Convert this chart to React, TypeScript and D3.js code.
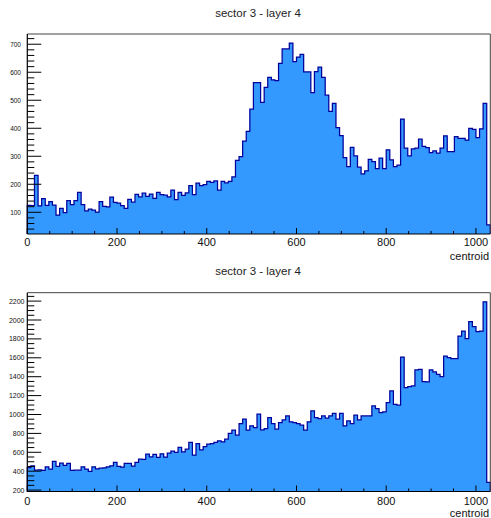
import React from 'react';
import * as d3 from 'd3';

const BIN_WIDTH = 8;
const X_MAX = 1032;
const title = 'sector 3 - layer 4';
const xAxisLabel = 'centroid';
const xMajorTicks = [0, 200, 400, 600, 800, 1000];
const topYTicks = [100, 200, 300, 400, 500, 600, 700];
const bottomYTicks = [200, 400, 600, 800, 1000, 1200, 1400, 1600, 1800, 2000, 2200];

const topCounts = [
  125, 124, 232, 123, 149, 125, 138, 126, 90, 114, 99, 142, 127, 142, 171, 127,
  105, 111, 108, 101, 138, 121, 119, 154, 135, 133, 124, 114, 146, 136, 164, 155,
  168, 157, 165, 150, 171, 163, 161, 155, 179, 145, 171, 160, 169, 195, 163, 204,
  195, 199, 210, 207, 212, 179, 210, 205, 210, 226, 285, 299, 354, 389, 468, 563,
  563, 492, 546, 582, 573, 570, 632, 683, 683, 704, 638, 654, 664, 601, 601, 527,
  602, 618, 582, 518, 460, 489, 402, 374, 295, 263, 332, 301, 261, 237, 248, 289,
  281, 256, 293, 256, 323, 287, 263, 268, 433, 329, 301, 326, 329, 361, 335, 331,
  313, 319, 311, 329, 373, 317, 317, 370, 364, 364, 358, 400, 396, 367, 398, 489,
  55,
];

const bottomCounts = [
  439, 457, 411, 415, 408, 446, 422, 503, 450, 485, 461, 482, 408, 411, 411, 446,
  422, 397, 446, 425, 432, 436, 446, 457, 492, 450, 443, 482, 482, 454, 492, 527,
  524, 580, 552, 577, 545, 584, 549, 591, 612, 598, 651, 605, 633, 704, 570, 693,
  626, 661, 686, 693, 704, 721, 711, 739, 799, 834, 781, 904, 950, 834, 880, 862,
  1003, 837, 851, 968, 904, 844, 915, 943, 985, 922, 915, 904, 887, 834, 922, 1038,
  968, 957, 985, 961, 985, 1013, 950, 1013, 880, 932, 904, 992, 943, 985, 985, 985,
  1091, 1063, 1020, 1027, 1126, 1249, 1108, 1098, 1608, 1284, 1295, 1302, 1471, 1478, 1348, 1344,
  1471, 1450, 1425, 1400, 1619, 1601, 1591, 1591, 1830, 1883, 1802, 1982, 1929, 1876, 1883, 2193,
  281,
];

const FONT = "'Liberation Sans', Arial, Helvetica, sans-serif";
const FILL = '#3399ff';
const LINE = '#00009c';

type HistProps = {
  counts: number[];
  top: number;
  bottom: number;
  yDomain: [number, number];
  yTicks: number[];
  yMinorStep: number;
  yFont: number;
  yLabelRight: number;
  titleBaseline: number;
  xLabelBaseline: number;
  axisLabelBaseline: number;
};

function Hist(p: HistProps) {
  const left = 27.3;
  const right = 490.3;
  const x = d3.scaleLinear().domain([0, X_MAX]).range([left, right]);
  const y = d3.scaleLinear().domain(p.yDomain).range([p.bottom, p.top]);

  const pts: [number, number][] = [[0, p.yDomain[0]]];
  p.counts.forEach((c, i) => {
    const x0 = i * BIN_WIDTH;
    const x1 = Math.min((i + 1) * BIN_WIDTH, X_MAX);
    pts.push([x0, c]);
    pts.push([x1, c]);
  });
  pts.push([Math.min(p.counts.length * BIN_WIDTH, X_MAX), p.yDomain[0]]);
  const line = d3
    .line<[number, number]>()
    .x((d) => x(d[0]))
    .y((d) => y(d[1]));
  const path = line(pts) || '';

  const xMinor = d3.range(0, X_MAX + 1, 50).filter((v) => !xMajorTicks.includes(v));
  const yMinor = d3
    .range(Math.ceil(p.yDomain[0] / p.yMinorStep) * p.yMinorStep, p.yDomain[1], p.yMinorStep)
    .filter((v) => !p.yTicks.includes(v));

  return (
    <g>
      <text
        x={258}
        y={p.titleBaseline}
        textAnchor="middle"
        fontFamily={FONT}
        fontSize={11.5}
        fill="#222"
      >
        {title}
      </text>
      <path d={path + 'Z'} fill={FILL} stroke="none" />
      <path d={path} fill="none" stroke={LINE} strokeWidth={1.25} strokeLinejoin="miter" />
      {/* frame */}
      <line x1={left} x2={right} y1={p.top} y2={p.top} stroke="#444" strokeWidth={1} />
      <line x1={right} x2={right} y1={p.top} y2={p.bottom} stroke="#444" strokeWidth={1} />
      <line x1={left} x2={right} y1={p.bottom} y2={p.bottom} stroke="#000" strokeWidth={1.2} />
      <line x1={left} x2={left} y1={p.top} y2={p.bottom} stroke="#000" strokeWidth={1.2} />
      {/* x ticks */}
      {xMajorTicks.map((v) => (
        <g key={'xm' + v}>
          <line x1={x(v)} x2={x(v)} y1={p.bottom} y2={p.bottom - 6} stroke="#000" />
          <text
            x={x(v)}
            y={p.xLabelBaseline}
            textAnchor="middle"
            fontFamily={FONT}
            fontSize={11}
            fill="#111"
          >
            {v}
          </text>
        </g>
      ))}
      {xMinor.map((v) => (
        <line key={'xn' + v} x1={x(v)} x2={x(v)} y1={p.bottom} y2={p.bottom - 3} stroke="#000" />
      ))}
      {/* y ticks */}
      {p.yTicks.map((v) => (
        <g key={'ym' + v}>
          <line x1={left} x2={left + 14} y1={y(v)} y2={y(v)} stroke="#000" />
          <text
            x={p.yLabelRight}
            y={y(v) + p.yFont * 0.36}
            textAnchor="end"
            fontFamily={FONT}
            fontSize={p.yFont}
            fill="#111"
          >
            {v}
          </text>
        </g>
      ))}
      {yMinor.map((v) => (
        <line key={'yn' + v} x1={left} x2={left + 7} y1={y(v)} y2={y(v)} stroke="#000" />
      ))}
      <text
        x={489}
        y={p.axisLabelBaseline}
        textAnchor="end"
        fontFamily={FONT}
        fontSize={11}
        fill="#111"
      >
        {xAxisLabel}
      </text>
    </g>
  );
}

export default function App() {
  return (
    <svg
      width={491}
      height={518}
      style={{ position: 'absolute', left: 0, top: 0, background: '#fff' }}
    >
      <rect x={0} y={0} width={491} height={518} fill="#fff" />
      <Hist
        counts={topCounts}
        top={34}
        bottom={234}
        yDomain={[22.5, 736.5]}
        yTicks={topYTicks}
        yMinorStep={20}
        yFont={6.5}
        yLabelRight={21}
        titleBaseline={17}
        xLabelBaseline={245.5}
        axisLabelBaseline={260}
      />
      <Hist
        counts={bottomCounts}
        top={292.7}
        bottom={491.5}
        yDomain={[185, 2289]}
        yTicks={bottomYTicks}
        yMinorStep={50}
        yFont={7}
        yLabelRight={24.5}
        titleBaseline={275}
        xLabelBaseline={504.5}
        axisLabelBaseline={517}
      />
    </svg>
  );
}
